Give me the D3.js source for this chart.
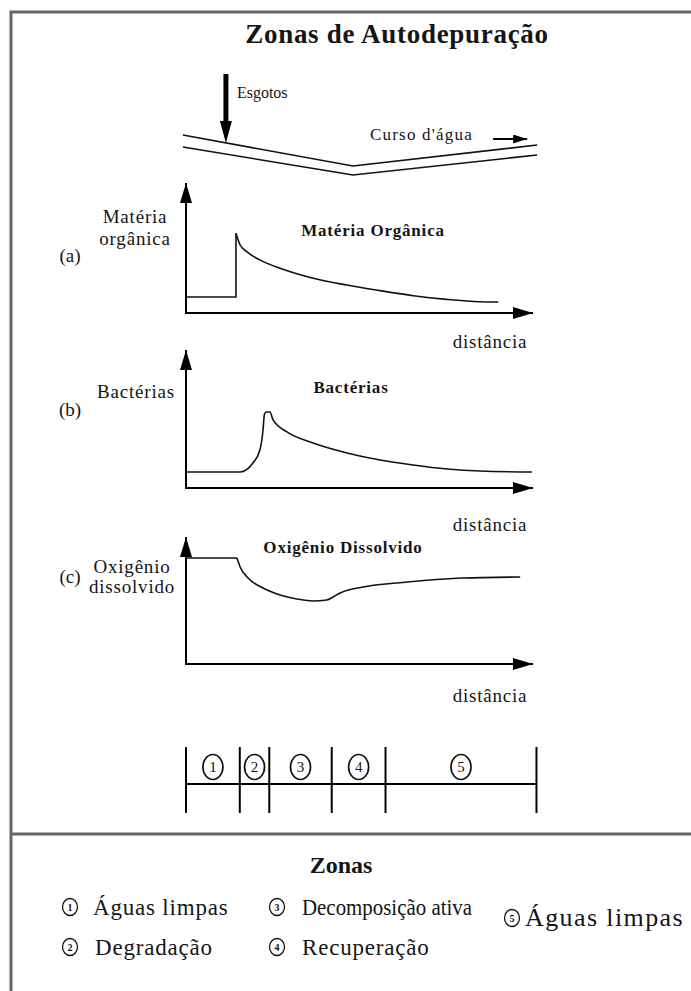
<!DOCTYPE html>
<html><head><meta charset="utf-8">
<script src="https://cdn.jsdelivr.net/npm/d3@7"></script>
<style>
body{margin:0;background:#fff}
svg{display:block}
text{font-family:"Liberation Serif","Times New Roman",serif;fill:#151515}
</style>
</head><body>
<svg id="chart" width="691" height="991"></svg>
<script>
// ---------- data ----------
const title = "Zonas de Autodepuração";
const sewageLabel = "Esgotos";
const riverLabel = "Curso d'água";
const panelIds = ["(a)", "(b)", "(c)"];
const panelTitles = ["Matéria Orgânica", "Bactérias", "Oxigênio Dissolvido"];
const panelYLabels = [["Matéria", "orgânica"], ["Bactérias"], ["Oxigênio", "dissolvido"]];
const xLabel = "distância";
const legendTitle = "Zonas";
const zoneNumbers = ["1", "2", "3", "4", "5"];
const zoneNames = ["Águas limpas", "Degradação", "Decomposição ativa", "Recuperação", "Águas limpas"];
const zoneBounds = [0, 15.5, 24, 42, 57.5, 101];

// distance (0-100) , relative level (0-100)
const moFlat = [[0, 12.3], [14.4, 12.3], [14.4, 61.3]];
const moDecay = [[14.4, 61.3], [15.6, 52.3], [17.5, 47.2], [22.3, 39.5], [27.1, 34.4], [36.7, 26.7],
  [46.3, 21.5], [55.9, 17.2], [65.5, 13.3], [75.1, 10.5], [84.7, 8.7], [90, 8.5]];
const bacteria = [[0, 11.6], [15.6, 11.6], [19.3, 18.1], [21.3, 27.5], [22.2, 42], [22.6, 53.5],
  [23.1, 55.1], [24.2, 55.1], [25.1, 49.3], [29.1, 40.6], [36.6, 32.6], [46.4, 25.4], [55.9, 20.3],
  [65.4, 16.7], [75.2, 13.8], [84.7, 12.3], [99.7, 11.6]];
const oxygenFlat = [[0, 83.5], [14.7, 83.5]];
const oxygenCurve = [[14.7, 83.5], [15.6, 76.4], [17.6, 68.5], [22.2, 59.8], [27.1, 54.3], [32, 51.2],
  [36.6, 49.6], [40.6, 50.4], [42.4, 52.8], [44.4, 55.9], [51, 60.6], [60.8, 63.8], [70.3, 66.1],
  [79.8, 67.7], [96.3, 68.5]];

// river sketch: distance along x, drop (0-40)
const riverX = [-0.9, 48.1, 101.2];
const riverUpper = [0, 31, 10];
const riverLower = [12, 40, 20];
const sewageAt = 11.5;
const flowArrow = [88.5, 98.3];

// ---------- layout ----------
const svg = d3.select("#chart");
const x = d3.scaleLinear().domain([0, 100]).range([186, 533]);
const panelRanges = [[313, 183], [488, 350], [664, 537]];
const ys = panelRanges.map(r => d3.scaleLinear().domain([0, 100]).range(r));
const ry = d3.scaleLinear().domain([0, 40]).range([135, 175]);

const defs = svg.append("defs");
defs.append("marker").attr("id", "ah").attr("markerUnits", "userSpaceOnUse")
  .attr("viewBox", "0 0 20 12").attr("markerWidth", 20).attr("markerHeight", 12)
  .attr("refX", 20).attr("refY", 6).attr("orient", "auto")
  .append("path").attr("d", "M0,0L20,6L0,12Z").attr("fill", "#000");
defs.append("marker").attr("id", "ahs").attr("markerUnits", "userSpaceOnUse")
  .attr("viewBox", "0 0 14 9").attr("markerWidth", 14).attr("markerHeight", 9)
  .attr("refX", 14).attr("refY", 4.5).attr("orient", "auto")
  .append("path").attr("d", "M0,0L14,4.5L0,9Z").attr("fill", "#000");

// frame
svg.append("path").attr("d", "M11,991V12H691M11,834H691")
  .attr("fill", "none").attr("stroke", "#666").attr("stroke-width", 3);

// title
svg.append("text").attr("x", 397).attr("y", 43).attr("text-anchor", "middle")
  .attr("font-size", 27).attr("font-weight", "bold").attr("letter-spacing", 0.7).text(title);

// sewage arrow
svg.append("line").attr("x1", x(sewageAt)).attr("x2", x(sewageAt)).attr("y1", 74).attr("y2", 124)
  .attr("stroke", "#000").attr("stroke-width", 5);
svg.append("path").attr("d", `M${x(sewageAt) - 6},121L${x(sewageAt) + 6},121L${x(sewageAt)},143Z`).attr("fill", "#000");
svg.append("text").attr("x", x(sewageAt) + 11).attr("y", 98).attr("font-size", 16).text(sewageLabel);

// river
const riverLine = d3.line().x(d => x(d[0])).y(d => ry(d[1]));
[riverUpper, riverLower].forEach(arr => {
  svg.append("path").attr("d", riverLine(riverX.map((v, i) => [v, arr[i]])))
    .attr("fill", "none").attr("stroke", "#111").attr("stroke-width", 1.6);
});
svg.append("text").attr("x", 370).attr("y", 140).attr("font-size", 17).attr("letter-spacing", 1.2).text(riverLabel);
svg.append("line").attr("x1", x(flowArrow[0])).attr("x2", x(flowArrow[1])).attr("y1", ry(4)).attr("y2", ry(4))
  .attr("stroke", "#000").attr("stroke-width", 2).attr("marker-end", "url(#ahs)");

// panels
const seriesByPanel = [
  [[moFlat, d3.curveLinear], [moDecay, d3.curveMonotoneX]],
  [[bacteria, d3.curveMonotoneX]],
  [[oxygenFlat, d3.curveLinear], [oxygenCurve, d3.curveMonotoneX]]
];
const titleBase = [236, 393, 553];
const titleCx = [373, 351, 343];
const yLabelBase = [[223, 245], [398], [573, 593]];
const yLabelCx = [135, 136, 132];
const idBase = [262, 416, 583];
const distBase = [348, 531, 702];

ys.forEach((y, i) => {
  const g = svg.append("g");
  // axes
  g.append("line").attr("x1", x(0)).attr("x2", x(0)).attr("y1", y(0) + 1).attr("y2", y(100))
    .attr("stroke", "#000").attr("stroke-width", 2).attr("marker-end", "url(#ah)");
  g.append("line").attr("x1", x(0) - 1).attr("x2", x(100)).attr("y1", y(0)).attr("y2", y(0))
    .attr("stroke", "#000").attr("stroke-width", 2).attr("marker-end", "url(#ah)");
  // curves
  seriesByPanel[i].forEach(([data, curve]) => {
    g.append("path").attr("d", d3.line().curve(curve).x(d => x(d[0])).y(d => y(d[1]))(data))
      .attr("fill", "none").attr("stroke", "#111").attr("stroke-width", 1.6);
  });
  // texts
  g.append("text").attr("x", titleCx[i]).attr("y", titleBase[i]).attr("text-anchor", "middle")
    .attr("font-size", 17).attr("font-weight", "bold").attr("letter-spacing", 0.8).text(panelTitles[i]);
  panelYLabels[i].forEach((t, j) => {
    g.append("text").attr("x", yLabelCx[i]).attr("y", yLabelBase[i][j]).attr("text-anchor", "middle")
      .attr("font-size", 19).attr("letter-spacing", 0.8).text(t);
  });
  g.append("text").attr("x", 70).attr("y", idBase[i]).attr("text-anchor", "middle")
    .attr("font-size", 19).text(panelIds[i]);
  g.append("text").attr("x", 490).attr("y", distBase[i]).attr("text-anchor", "middle")
    .attr("font-size", 19).attr("letter-spacing", 0.8).text(xLabel);
});

// zone bar
const zb = svg.append("g");
zb.append("line").attr("x1", x(zoneBounds[0])).attr("x2", x(zoneBounds[5])).attr("y1", 784).attr("y2", 784)
  .attr("stroke", "#000").attr("stroke-width", 2);
zoneBounds.forEach(b => {
  zb.append("line").attr("x1", x(b)).attr("x2", x(b)).attr("y1", 747).attr("y2", 813)
    .attr("stroke", "#000").attr("stroke-width", 2);
});
zoneNumbers.forEach((n, i) => {
  const cx = x((zoneBounds[i] + zoneBounds[i + 1]) / 2);
  zb.append("ellipse").attr("cx", cx).attr("cy", 767).attr("rx", 10).attr("ry", 12.5)
    .attr("fill", "none").attr("stroke", "#111").attr("stroke-width", 1.7);
  zb.append("text").attr("x", cx).attr("y", 772).attr("text-anchor", "middle")
    .attr("font-size", 15).text(n);
});

// legend
svg.append("text").attr("x", 341).attr("y", 873).attr("text-anchor", "middle")
  .attr("font-size", 24).attr("font-weight", "bold").text(legendTitle);
const legendPos = [[70, 907], [70, 947], [277, 907], [277, 947], [512, 918]];
const legendTextDx = [23, 25, 25, 25, 13];
const legendFont = [23, 23, 23, 23, 26];
const legendSpacing = [0.8, 0.8, 0, 0.8, 1.4];
zoneNames.forEach((name, i) => {
  const [cx, cy] = legendPos[i];
  svg.append("ellipse").attr("cx", cx).attr("cy", cy).attr("rx", 7.5).attr("ry", 8.5)
    .attr("fill", "none").attr("stroke", "#111").attr("stroke-width", 1.3);
  svg.append("text").attr("x", cx).attr("y", cy + 3.5).attr("text-anchor", "middle")
    .attr("font-size", 10).attr("font-weight", "bold").text(zoneNumbers[i]);
  const t = svg.append("text").attr("x", cx + legendTextDx[i]).attr("y", cy + 8)
    .attr("font-size", legendFont[i]).attr("letter-spacing", legendSpacing[i]).text(name);
  if (i === 2) t.attr("textLength", 170).attr("lengthAdjust", "spacingAndGlyphs");
});
</script>
</body></html>
